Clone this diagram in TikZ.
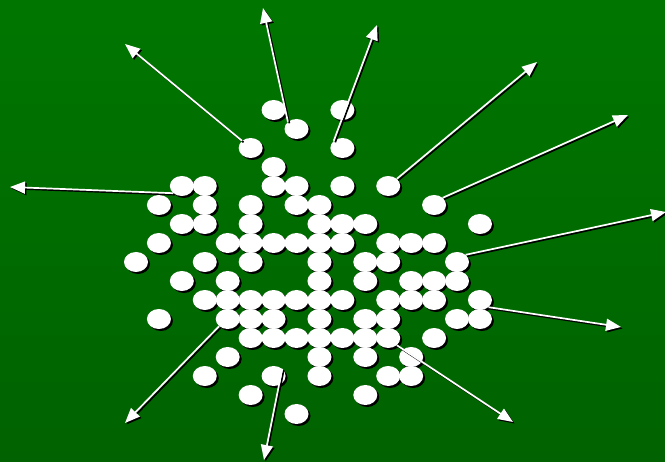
\documentclass[tikz,border=0pt]{standalone}
\usetikzlibrary{arrows.meta,shapes.geometric,shadows}
\definecolor{fieldtop}{RGB}{0,118,0}
\definecolor{fieldbot}{RGB}{0,98,0}
\tikzset{
  disc/.style={ellipse,fill=white,minimum width=24pt,minimum height=20pt,inner sep=0pt,
    drop shadow={shadow xshift=2pt,shadow yshift=-2pt,fill=black,opacity=1}},
  ray/.style={white,line width=1.7pt,-{Triangle[length=15pt,width=12pt]}},
  rayshade/.style={ray,black,transform canvas={shift={(1.5pt,-1.5pt)}}},
}
\begin{document}
\begin{tikzpicture}[x=1pt,y=-1pt]
 \useasboundingbox (0,0) rectangle (665,462);
 \shade[top color=fieldtop,bottom color=fieldbot] (0,0) rectangle (665,462);
 % the discs, row by row
 \foreach \j/\row in {0/{6,9},1/{7},2/{5,9},3/{6},4/{2,3,6,7,9,11},5/{1,3,5,7,8,13},
   6/{2,3,5,8,9,10,15},7/{1,4,5,6,7,8,9,11,12,13},8/{0,3,5,8,10,11,14},
   9/{2,4,8,10,12,13,14},10/{3,4,5,6,7,8,9,11,12,13,15},11/{1,4,5,6,8,10,11,14,15},
   12/{5,6,7,8,9,10,11,13},13/{4,8,10,12},14/{3,6,8,11,12},15/{5,10},16/{7}}
   \foreach \i in \row
     \node[disc] (p\i-\j) at ({136+22.93*\i},{110+19*\j}) {};
 % free ends of the rays
 \coordinate (t1) at (125,44);  \coordinate (t2) at (263,8);
 \coordinate (t3) at (377,25);  \coordinate (t4) at (537,62);
 \coordinate (t5) at (628,115); \coordinate (t6) at (666,212);
 \coordinate (t7) at (621,327); \coordinate (t8) at (513,422);
 \coordinate (t9) at (125,423); \coordinate (t10) at (264,460);
 \coordinate (t11) at (10,187);
 \foreach \s/\e in {p5-2.north west/t1,p7-1.north west/t2,p9-2.north west/t3,
   p11-4.north east/t4,p13-5.north east/t5,p14-8.north east/t6,p15-10.south east/t7,
   p11-12.south east/t8,p4-11.south west/t9,p6-14.north east/t10,p2-4.south west/t11}{
   \draw[rayshade] (\s) -- (\e);
   \draw[ray] (\s) -- (\e);
 }
\end{tikzpicture}
\end{document}
